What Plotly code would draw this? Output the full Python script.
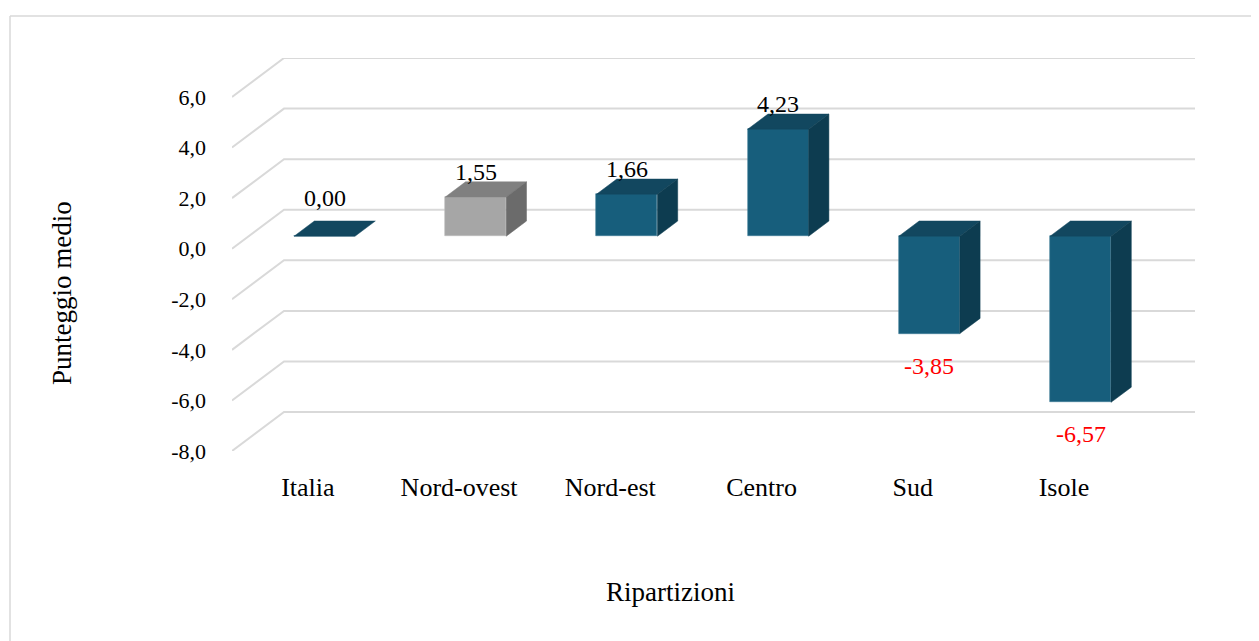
import plotly.graph_objects as go

# ---------------- data ----------------
categories = ["Italia", "Nord-ovest", "Nord-est", "Centro", "Sud", "Isole"]
values = [0.00, 1.55, 1.66, 4.23, -3.85, -6.57]
y_ticks = [-8, -6, -4, -2, 0, 2, 4, 6]
y_tick_labels = [f"{t:.1f}".replace(".", ",") for t in y_ticks]
highlight = ["Nord-ovest"]          # category drawn in grey
x_title = "Ripartizioni"
y_title = "Punteggio medio"

# ---------------- styles ----------------
FONT = "Liberation Serif"
BLUE = dict(front="#175E7C", top="#12475F", side="#0D3C50", edge="#3F7E98")
GREY = dict(front="#A6A6A6", top="#808080", side="#6B6B6B", edge="#BDBDBD")
GRID = "#D9D9D9"

# pseudo-3D projection (front plane = axis coordinates)
DEPTH_X = 0.344      # category units shift for full depth
DEPTH_Y = 1.54       # value units shift for full depth
D0, D1 = 0.32, 0.71  # depth span of the columns
BAR_W = 0.403
XMIN, XMAX = -0.502, 5.867
YMIN, YMAX = y_ticks[0], y_ticks[-1] + DEPTH_Y

pos = list(range(len(categories)))
base = D0 * DEPTH_Y
ddx = (D1 - D0) * DEPTH_X
ddy = (D1 - D0) * DEPTH_Y

fig = go.Figure()

# front faces of columns
fig.add_trace(go.Bar(
    x=pos, y=values, base=base,
    offset=D0 * DEPTH_X - BAR_W / 2, width=BAR_W,
    marker=dict(
        color=[GREY["front"] if c in highlight else BLUE["front"] for c in categories],
        line=dict(color=[GREY["edge"] if c in highlight else BLUE["edge"] for c in categories], width=0.6),
    ),
    showlegend=False, hoverinfo="skip",
))

# top and side faces
for c, p, v in zip(categories, pos, values):
    pal = GREY if c in highlight else BLUE
    L = p + D0 * DEPTH_X - BAR_W / 2
    R = L + BAR_W
    hi = base + max(v, 0)
    lo = base + min(v, 0)
    fig.add_trace(go.Scatter(
        x=[L, R, R + ddx, L + ddx, L], y=[hi, hi, hi + ddy, hi + ddy, hi],
        mode="lines", fill="toself", fillcolor=pal["top"],
        line=dict(color=pal["top"], width=0.5),
        showlegend=False, hoverinfo="skip"))
    if v != 0:
        fig.add_trace(go.Scatter(
            x=[R, R + ddx, R + ddx, R, R], y=[lo, lo + ddy, hi + ddy, hi, lo],
            mode="lines", fill="toself", fillcolor=pal["side"],
            line=dict(color=pal["side"], width=0.5),
            showlegend=False, hoverinfo="skip"))

# gridlines: diagonal on side wall + horizontal on back wall
shapes = []
for t in y_ticks:
    shapes.append(dict(
        type="path", xref="x", yref="y", layer="below",
        path=f"M {XMIN},{t} L {XMIN + DEPTH_X},{t + DEPTH_Y} L {XMAX},{t + DEPTH_Y}",
        line=dict(color=GRID, width=2)))

# figure sits 8px inside the page (body margin)
OFF = 8
W, H = 1259 - OFF, 641 - OFF
PX_L, PX_W, PX_B, PX_H = 232 - OFF, 963, 451 - OFF, 393
def px(xp):
    return (xp - OFF - PX_L) / PX_W
def py(yp):
    return (PX_B - (yp - OFF)) / PX_H
shapes.append(dict(type="line", xref="paper", yref="paper",
                   x0=px(10), y0=py(16), x1=px(1262), y1=py(16),
                   line=dict(color=GRID, width=1.5)))
shapes.append(dict(type="line", xref="paper", yref="paper",
                   x0=px(10), y0=py(16), x1=px(10), y1=py(645),
                   line=dict(color=GRID, width=1.5)))

# data labels
annotations = []
for p, v in zip(pos, values):
    txt = f"{v:.2f}".replace(".", ",")
    xc = p + D0 * DEPTH_X
    if v > 0:
        y, shift = base + v + ddy, 10
    elif v == 0:
        y, shift = base + ddy, 23
    else:
        y, shift = base + v, -32
    annotations.append(dict(
        x=xc, y=y, xref="x", yref="y", text=txt, showarrow=False,
        yshift=shift, yanchor="middle", xanchor="center",
        font=dict(family=FONT, size=24, color="#000000" if v >= 0 else "#FF0000")))

# axis titles (placed like the original chart, not centred on the plot area)
annotations.append(dict(
    x=px(670), y=py(592), xref="paper", yref="paper", text=x_title,
    showarrow=False, xanchor="center", yanchor="middle",
    font=dict(family=FONT, size=27, color="#000000")))
annotations.append(dict(
    x=px(62), y=py(293), xref="paper", yref="paper", text=y_title,
    showarrow=False, xanchor="center", yanchor="middle", textangle=-90,
    font=dict(family=FONT, size=27, color="#000000")))

fig.update_layout(
    width=W, height=H,
    margin=dict(l=PX_L, r=W - PX_L - PX_W, t=PX_B - PX_H, b=H - PX_B),
    paper_bgcolor="white", plot_bgcolor="white",
    font=dict(family=FONT, size=21, color="#000000"),
    shapes=shapes, annotations=annotations,
    xaxis=dict(
        range=[XMIN, XMAX], tickvals=pos, ticktext=categories,
        showgrid=False, zeroline=False, showline=False, ticks="",
        ticklabelstandoff=18, tickfont=dict(family=FONT, size=26),
        fixedrange=True,
    ),
    yaxis=dict(
        range=[YMIN, YMAX], tickvals=y_ticks, ticktext=y_tick_labels,
        showgrid=False, zeroline=False, showline=False, ticks="",
        ticklabelstandoff=25, tickfont=dict(family=FONT, size=22),
        fixedrange=True,
    ),
    bargap=0,
)

fig.write_html("out.html")
